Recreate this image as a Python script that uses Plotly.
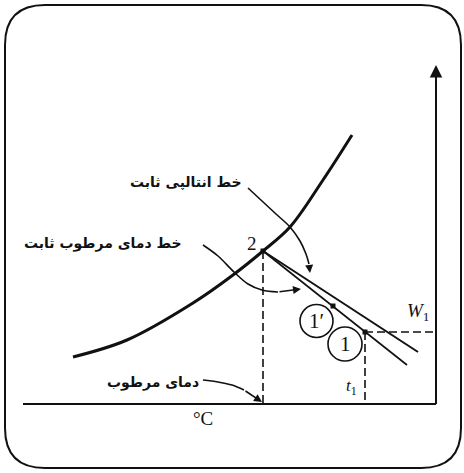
import plotly.graph_objects as go

# Schematic psychrometric chart: x = dry-bulb position, y = humidity ratio position
# (plot units, the temperature axis is y = 0, the humidity axis is x = 436)

# Saturation curve
sat_t = [73, 127, 193, 233, 263, 290, 323, 352]
sat_w = [47, 64, 101, 129, 153, 177, 224, 269]

# State points: 2 (saturated), 1' and 1
state_names = ["2", "1'", "1"]
state_t = [263, 333, 365]
state_w = [153, 98, 72]

# Constant wet-bulb line (through 2, 1', 1) and constant enthalpy line (from 2)
wb_line_t = [263, 407]
wb_line_w = [153, 39]
h_line_t = [263, 418]
h_line_w = [153, 52]

# Axes extents
t_axis = [23, 436]
w_axis_top = 339

# Leader curves for the annotations
lead_h_t = [248, 262, 276, 290, 300, 306, 309]
lead_h_w = [216, 203, 190, 177, 163, 150, 140]
lead_wb_t = [203, 218, 234, 248, 262, 278]
lead_wb_w = [159, 148, 132, 120, 114, 112]
lead_wbt_t = [203, 218, 232, 244]
lead_wbt_w = [24, 22, 19, 14]

fig = go.Figure()

black = "#111111"

# Saturation curve
fig.add_trace(go.Scatter(x=sat_t, y=sat_w, mode="lines",
                         line=dict(color=black, width=3, shape="spline"),
                         hoverinfo="skip"))

# Constant enthalpy & wet-bulb lines
fig.add_trace(go.Scatter(x=h_line_t, y=h_line_w, mode="lines",
                         line=dict(color=black, width=2), hoverinfo="skip"))
fig.add_trace(go.Scatter(x=wb_line_t, y=wb_line_w, mode="lines",
                         line=dict(color=black, width=1.6), hoverinfo="skip"))

# Dashed projections
fig.add_trace(go.Scatter(x=[state_t[0], state_t[0]], y=[state_w[0], 0], mode="lines",
                         line=dict(color=black, width=1.6, dash="8px,4px"), hoverinfo="skip"))
fig.add_trace(go.Scatter(x=[state_t[2], state_t[2]], y=[state_w[2], 0], mode="lines",
                         line=dict(color=black, width=1.6, dash="8px,4px"), hoverinfo="skip"))
fig.add_trace(go.Scatter(x=[state_t[2], t_axis[1]], y=[state_w[2], state_w[2]], mode="lines",
                         line=dict(color=black, width=1.6, dash="8px,4px"), hoverinfo="skip"))

# Axes
fig.add_trace(go.Scatter(x=t_axis, y=[0, 0], mode="lines",
                         line=dict(color=black, width=2), hoverinfo="skip"))
fig.add_trace(go.Scatter(x=[t_axis[1], t_axis[1]], y=[0, w_axis_top - 10], mode="lines",
                         line=dict(color=black, width=2), hoverinfo="skip"))

# Leader curves
for lt, lw in [(lead_h_t, lead_h_w), (lead_wb_t, lead_wb_w), (lead_wbt_t, lead_wbt_w)]:
    fig.add_trace(go.Scatter(x=lt, y=lw, mode="lines",
                             line=dict(color=black, width=1.6, shape="spline"),
                             hoverinfo="skip"))

# State point markers
fig.add_trace(go.Scatter(x=state_t, y=state_w, mode="markers",
                         marker=dict(symbol="square", size=5, color=black),
                         hoverinfo="skip"))

ann = []

def arrow(x_tip, y_tip, x_tail, y_tail, size=1.0, width=1.6):
    ann.append(dict(x=x_tip, y=y_tip, ax=x_tail, ay=y_tail, xref="x", yref="y",
                    axref="x", ayref="y", text="", showarrow=True, arrowhead=2,
                    arrowsize=size, arrowwidth=width, arrowcolor=black))

# Humidity axis arrow
arrow(t_axis[1], w_axis_top, t_axis[1], w_axis_top - 20, size=1.25, width=2)
# Leader arrowheads
arrow(310, 131, lead_h_t[-1], lead_h_w[-1])
arrow(301, 115, lead_wb_t[-1], lead_wb_w[-1])
arrow(262, 2, lead_wbt_t[-1], lead_wbt_w[-1])

serif = "Liberation Serif"
fa = "DejaVu Sans"

def label(x, y, text, font, size, xanchor="center", bold=False):
    ann.append(dict(x=x, y=y, xref="x", yref="y", text=f"<b>{text}</b>" if bold else text,
                    showarrow=False, xanchor=xanchor, yanchor="middle",
                    font=dict(family=font, size=size, color=black)))

label(252, 161, "2", serif, 19)
label(418, 92, "<i>W</i><sub>1</sub>", serif, 19)
label(351, 17, "<i>t</i><sub>1</sub>", serif, 17)
label(203, -14, "°C", serif, 19)
label(316.5, 83, "1′", serif, 21)
label(345, 60, "1", serif, 21)

label(244, 222, "خط انتالپی ثابت", fa, 14, xanchor="right", bold=True)
label(184, 161, "خط دمای مرطوب ثابت", fa, 14, xanchor="right", bold=True)
label(201, 22, "دمای مرطوب", fa, 14, xanchor="right", bold=True)

shapes = [
    # Circles around state labels 1' and 1
    dict(type="circle", xref="x", yref="y", x0=300, x1=333, y0=66.5, y1=99.5,
         line=dict(color=black, width=1.6)),
    dict(type="circle", xref="x", yref="y", x0=328, x1=362, y0=43, y1=77,
         line=dict(color=black, width=1.6)),
    # Rounded frame
    dict(type="path", xref="x", yref="y",
         path="M 45,399 L 421,399 Q 461,399 461,359 L 461,-24 Q 461,-64 421,-64 "
              "L 45,-64 Q 5,-64 5,-24 L 5,359 Q 5,399 45,399 Z",
         line=dict(color=black, width=2)),
]

fig.update_layout(
    width=464, height=473,
    margin=dict(l=0, r=0, t=0, b=0),
    paper_bgcolor="white", plot_bgcolor="white",
    showlegend=False,
    xaxis=dict(range=[0, 464], visible=False, fixedrange=True),
    yaxis=dict(range=[-69, 404], visible=False, fixedrange=True),
    annotations=ann,
    shapes=shapes,
)

fig.write_html("out.html")
